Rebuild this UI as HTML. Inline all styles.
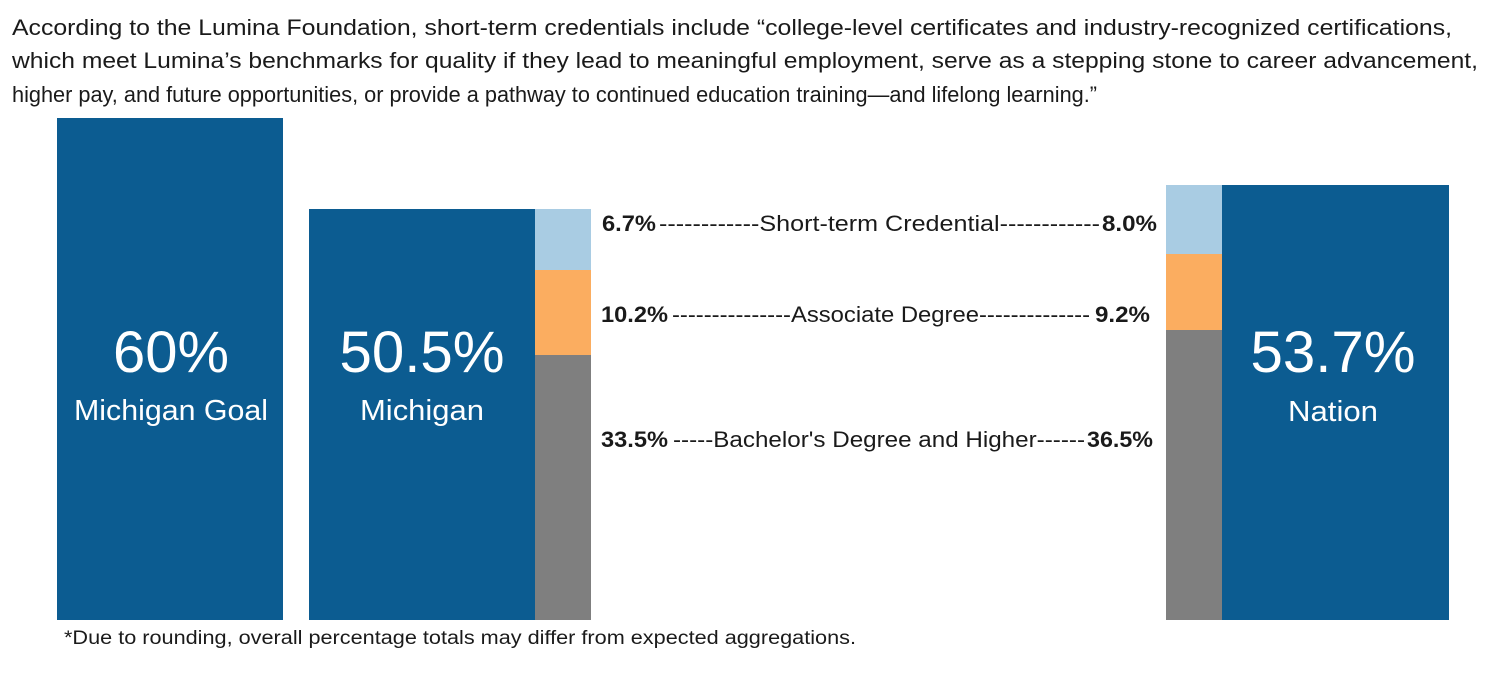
<!DOCTYPE html>
<html><head><meta charset="utf-8"><style>
html,body{margin:0;padding:0;background:#fff;}
svg{display:block;}
text{font-family:"Liberation Sans",sans-serif;}
</style></head><body>
<svg width="1491" height="675" xmlns="http://www.w3.org/2000/svg">
<g font-size="22" fill="#1a1a1a">
<text x="12" y="35" textLength="1440" lengthAdjust="spacingAndGlyphs">According to the Lumina Foundation, short-term credentials include “college-level certificates and industry-recognized certifications,</text>
<text x="12" y="68" textLength="1466" lengthAdjust="spacingAndGlyphs">which meet Lumina’s benchmarks for quality if they lead to meaningful employment, serve as a stepping stone to career advancement,</text>
<text x="12" y="102" textLength="1085" lengthAdjust="spacingAndGlyphs">higher pay, and future opportunities, or provide a pathway to continued education training—and lifelong learning.”</text>
</g>
<rect x="57" y="118" width="226" height="502" fill="#0C5C91"/>
<rect x="309" y="209" width="226" height="411" fill="#0C5C91"/>
<rect x="535" y="209" width="56" height="61" fill="#A9CCE3"/>
<rect x="535" y="270" width="56" height="85" fill="#FBAD60"/>
<rect x="535" y="355" width="56" height="265" fill="#7F7F7F"/>
<rect x="1166" y="185" width="56" height="69" fill="#A9CCE3"/>
<rect x="1166" y="254" width="56" height="76" fill="#FBAD60"/>
<rect x="1166" y="330" width="56" height="290" fill="#7F7F7F"/>
<rect x="1222" y="185" width="227" height="435" fill="#0C5C91"/>
<g fill="#fff" text-anchor="middle">
<text x="171" y="372" font-size="58" textLength="116" lengthAdjust="spacingAndGlyphs">60%</text>
<text x="171" y="420" font-size="29" textLength="194" lengthAdjust="spacingAndGlyphs">Michigan Goal</text>
<text x="422" y="372" font-size="58" textLength="165" lengthAdjust="spacingAndGlyphs">50.5%</text>
<text x="422" y="420" font-size="29" textLength="124" lengthAdjust="spacingAndGlyphs">Michigan</text>
<text x="1333" y="372" font-size="58" textLength="165" lengthAdjust="spacingAndGlyphs">53.7%</text>
<text x="1333" y="421" font-size="29" textLength="90" lengthAdjust="spacingAndGlyphs">Nation</text>
</g>
<g font-size="22" fill="#1a1a1a">
<text x="602" y="231" font-weight="bold" textLength="54" lengthAdjust="spacingAndGlyphs">6.7%</text>
<text x="659" y="231" textLength="441" lengthAdjust="spacingAndGlyphs">------------Short-term Credential------------</text>
<text x="1102" y="231" font-weight="bold" textLength="55" lengthAdjust="spacingAndGlyphs">8.0%</text>
<text x="601" y="322" font-weight="bold" textLength="67" lengthAdjust="spacingAndGlyphs">10.2%</text>
<text x="672" y="322" textLength="418" lengthAdjust="spacingAndGlyphs">---------------Associate Degree--------------</text>
<text x="1095" y="322" font-weight="bold" textLength="55" lengthAdjust="spacingAndGlyphs">9.2%</text>
<text x="601" y="447" font-weight="bold" textLength="67" lengthAdjust="spacingAndGlyphs">33.5%</text>
<text x="673" y="447" textLength="412" lengthAdjust="spacingAndGlyphs">-----Bachelor's Degree and Higher------</text>
<text x="1087" y="447" font-weight="bold" textLength="66" lengthAdjust="spacingAndGlyphs">36.5%</text>
</g>
<text x="64" y="644" font-size="19" fill="#1a1a1a" textLength="792" lengthAdjust="spacingAndGlyphs">*Due to rounding, overall percentage totals may differ from expected aggregations.</text>
</svg>
</body></html>
